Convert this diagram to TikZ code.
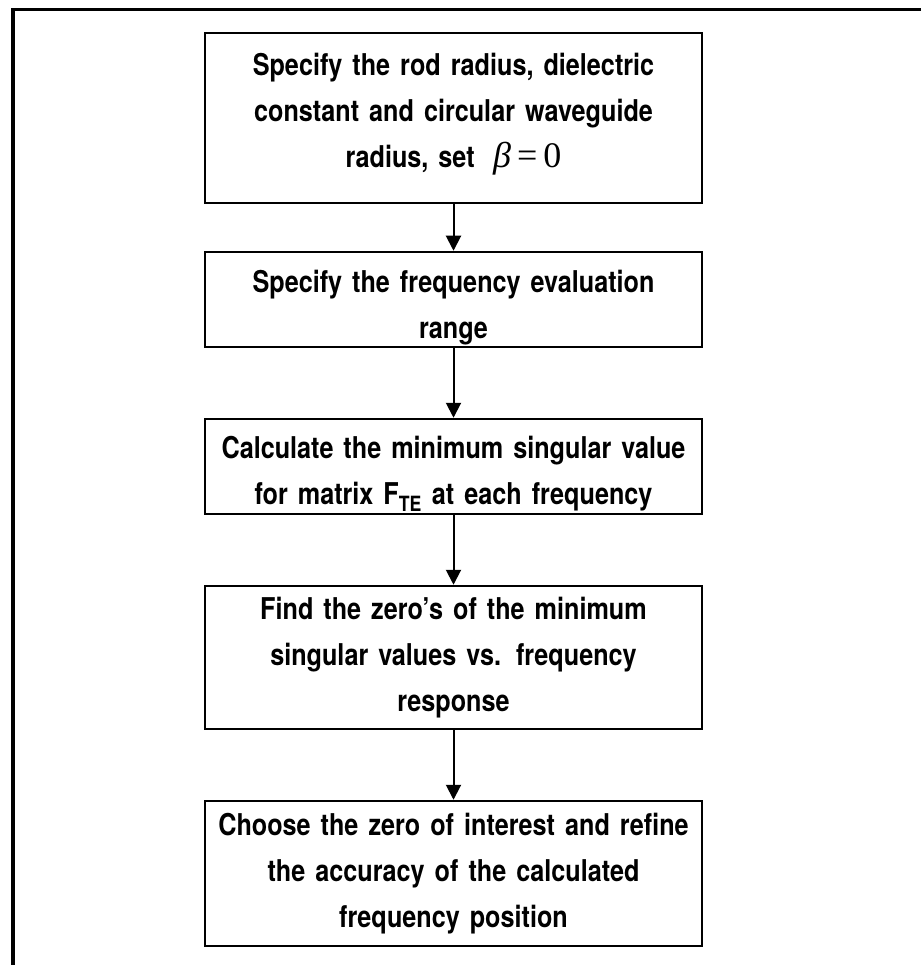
\documentclass[tikz,border=0pt]{standalone}
\usepackage{fontspec}
\setmainfont{TeX Gyre Heros}[FakeStretch=0.84]
\newfontfamily\betafont{Liberation Serif}
\usetikzlibrary{arrows.meta}

\tikzset{
  stepbox/.style={draw, line width=2.5pt, minimum width=497pt, text width=497pt,
    align=center, inner sep=0pt, font=\fontsize{30}{46}\selectfont\bfseries},
  flowarrow/.style={line width=2pt, -{Triangle[width=15pt,length=15pt]}},
}

\begin{document}
\begin{tikzpicture}[x=1pt, y=-1pt]
  \useasboundingbox (0,0) rectangle (921,965);
  \coordinate (frametr) at (921,9.5);
  \coordinate (framebl) at (13,965);
  \draw[line width=3.5pt] (frametr) -| (framebl);
  \node [stepbox, minimum height=170pt] (geom) at (453.5,118)
    {Specify the rod radius, dielectric\\constant and circular waveguide\\radius, set \;{\betafont\mdseries\fontsize{36}{46}\selectfont\itshape β\upshape\,=\,0}\\[-30pt]\mbox{}};
  \node [stepbox, minimum height=95pt] (range) at (453.5,299.5)
    {Specify the frequency evaluation\\range\\[-56pt]\mbox{}};
  \node [stepbox, minimum height=95pt] (svd) at (453.5,466.5)
    {Calculate the minimum singular value\\for matrix F\textsubscript{TE} at each frequency\\[-54pt]\mbox{}};
  \node [stepbox, minimum height=143pt] (zeros) at (453.5,657.5)
    {Find the zero’s of the minimum\\singular values vs. frequency\\response};
  \node [stepbox, minimum height=145pt] (refine) at (453.5,873.5)
    {Choose the zero of interest and refine\\the accuracy of the calculated\\frequency position};
  \draw [flowarrow] (geom) -- (range);
  \draw [flowarrow] (range) -- (svd);
  \draw [flowarrow] (svd) -- (zeros);
  \draw [flowarrow] (zeros) -- (refine);
\end{tikzpicture}
\end{document}
